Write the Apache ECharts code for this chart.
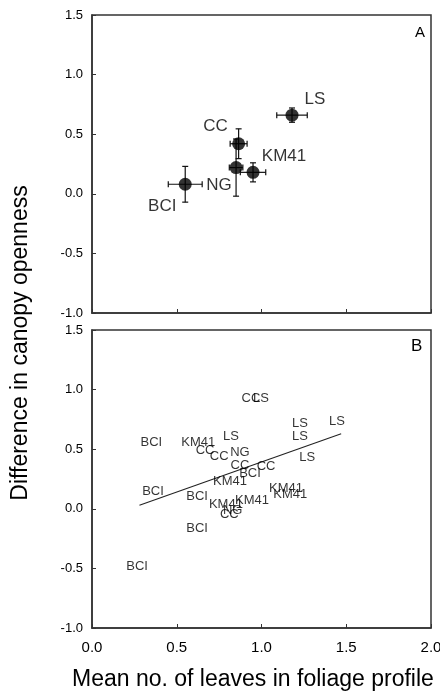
<!DOCTYPE html>
<html>
<head>
<meta charset="utf-8">
<script src="https://cdn.jsdelivr.net/npm/echarts@6/dist/echarts.min.js"></script>
<style>
  html, body { margin: 0; padding: 0; background: #fff; }
  #chart { width: 440px; height: 695px; }
</style>
</head>
<body>
<div id="chart"></div>
<script>
// panel A: site means with error bars
var sitesA = ['BCI', 'NG', 'CC', 'KM41', 'LS'];
var meanLeavesA = [0.55, 0.85, 0.865, 0.95, 1.18];
var diffOpenA = [0.08, 0.22, 0.42, 0.18, 0.66];
var errLeavesA = [0.10, 0.04, 0.05, 0.075, 0.09];
var errOpenA = [0.15, 0.24, 0.125, 0.08, 0.06];

// panel B: individual plots, labelled by site
var sitesB = ['BCI', 'BCI', 'BCI', 'BCI', 'BCI', 'BCI',
              'KM41', 'KM41', 'KM41', 'KM41', 'KM41', 'KM41',
              'LS', 'LS', 'LS', 'LS', 'LS', 'LS',
              'CC', 'CC', 'CC', 'CC', 'CC', 'CC',
              'NG', 'NG'];
var meanLeavesB = [0.35, 0.36, 0.62, 0.62, 0.266, 0.932,
                   0.627, 0.814, 1.145, 1.17, 0.944, 0.79,
                   0.82, 1.227, 1.445, 1.227, 1.27, 0.997,
                   0.667, 0.75, 0.873, 1.027, 0.938, 0.81,
                   0.873, 0.83];
var diffOpenB = [0.555, 0.143, 0.10, -0.168, -0.48, 0.294,
                 0.555, 0.227, 0.168, 0.118, 0.067, 0.04,
                 0.605, 0.714, 0.73, 0.605, 0.43, 0.924,
                 0.487, 0.437, 0.36, 0.353, 0.924, -0.05,
                 0.47, -0.01];

// fitted line end points (panel B)
var fitX = [0.28, 1.47];
var fitY = [0.03, 0.63];

// label offsets for panel A (px from the dot)
var labelOffsetA = { BCI: [-23, 22], NG: [-17, 18], CC: [-23, -17], KM41: [31, -16], LS: [23, -16] };

var font = 'Liberation Sans, Arial, sans-serif';
var ink = '#000';

var dataA = sitesA.map(function (s, i) {
  return {
    name: s,
    value: [meanLeavesA[i], diffOpenA[i], errLeavesA[i], errOpenA[i]],
    label: { offset: labelOffsetA[s] }
  };
});
var dataB = sitesB.map(function (s, i) {
  return { name: s, value: [meanLeavesB[i], diffOpenB[i]] };
});

function yAxisFor(idx) {
  return {
    gridIndex: idx, type: 'value', min: -1, max: 1.5, interval: 0.5,
    axisLine: { show: true, lineStyle: { color: '#333', width: 1.5 } },
    axisTick: { show: true, inside: true, length: 4, lineStyle: { color: '#333' } },
    axisLabel: {
      fontFamily: font, fontSize: 13, color: ink, margin: 9,
      formatter: function (v) { return v.toFixed(1); }
    },
    splitLine: { show: false }
  };
}
function xAxisFor(idx, labels) {
  return {
    gridIndex: idx, type: 'value', min: 0, max: 2, interval: 0.5,
    axisLine: { show: true, onZero: false, lineStyle: { color: '#333', width: 1.5 } },
    axisTick: { show: true, inside: true, length: 4, lineStyle: { color: '#333' } },
    axisLabel: {
      show: labels, fontFamily: font, fontSize: 15, color: ink, margin: 12,
      formatter: function (v) { return v.toFixed(1); }
    },
    splitLine: { show: false }
  };
}

var chart = echarts.init(document.getElementById('chart'));
chart.setOption({
  backgroundColor: '#fff',
  animation: false,
  grid: [
    { left: 92, top: 15, width: 339, height: 298, show: true, borderColor: '#333', borderWidth: 1.5, outerBoundsMode: 'none' },
    { left: 92, top: 330, width: 339, height: 298, show: true, borderColor: '#333', borderWidth: 1.5, outerBoundsMode: 'none' }
  ],
  xAxis: [xAxisFor(0, false), xAxisFor(1, true)],
  yAxis: [yAxisFor(0), yAxisFor(1)],
  graphic: [
    {
      type: 'text', left: 415, top: 25,
      style: { text: 'A', fontFamily: font, fontSize: 15, fill: ink }
    },
    {
      type: 'text', left: 411, top: 338,
      style: { text: 'B', fontFamily: font, fontSize: 17, fill: ink }
    },
    {
      type: 'text', x: 21, y: 343, rotation: Math.PI / 2,
      style: {
        text: 'Difference in canopy openness', fontFamily: font, fontSize: 23,
        fill: ink, align: 'center', verticalAlign: 'middle'
      }
    },
    {
      type: 'text', left: 72, top: 668,
      style: { text: 'Mean no. of leaves in foliage profile', fontFamily: font, fontSize: 23, fill: ink }
    }
  ],
  series: [
    {
      type: 'custom', xAxisIndex: 0, yAxisIndex: 0,
      data: dataA.map(function (d) { return d.value; }),
      renderItem: function (params, api) {
        var x = api.value(0), y = api.value(1), ex = api.value(2), ey = api.value(3);
        var l = api.coord([x - ex, y]), r = api.coord([x + ex, y]);
        var t = api.coord([x, y + ey]), b = api.coord([x, y - ey]);
        var cap = 3;
        var st = { stroke: '#111', lineWidth: 1.2 };
        return {
          type: 'group',
          children: [
            { type: 'line', shape: { x1: l[0], y1: l[1], x2: r[0], y2: r[1] }, style: st },
            { type: 'line', shape: { x1: l[0], y1: l[1] - cap, x2: l[0], y2: l[1] + cap }, style: st },
            { type: 'line', shape: { x1: r[0], y1: r[1] - cap, x2: r[0], y2: r[1] + cap }, style: st },
            { type: 'line', shape: { x1: t[0], y1: t[1], x2: b[0], y2: b[1] }, style: st },
            { type: 'line', shape: { x1: t[0] - cap, y1: t[1], x2: t[0] + cap, y2: t[1] }, style: st },
            { type: 'line', shape: { x1: b[0] - cap, y1: b[1], x2: b[0] + cap, y2: b[1] }, style: st }
          ]
        };
      },
      z: 2
    },
    {
      type: 'scatter', xAxisIndex: 0, yAxisIndex: 0,
      data: dataA, symbol: 'circle', symbolSize: 13,
      itemStyle: { color: '#000' },
      label: {
        show: true, position: 'inside', formatter: '{b}',
        fontFamily: font, fontSize: 17, color: ink
      },
      z: 3
    },
    {
      type: 'line', xAxisIndex: 1, yAxisIndex: 1,
      data: fitX.map(function (x, i) { return [x, fitY[i]]; }),
      symbol: 'none', lineStyle: { color: '#222', width: 1.1 }, z: 2
    },
    {
      type: 'scatter', xAxisIndex: 1, yAxisIndex: 1,
      data: dataB, symbol: 'circle', symbolSize: 1,
      itemStyle: { color: 'rgba(0,0,0,0)' },
      label: {
        show: true, position: 'inside', formatter: '{b}',
        fontFamily: font, fontSize: 13, color: ink
      },
      z: 3
    }
  ]
});
</script>
</body>
</html>
